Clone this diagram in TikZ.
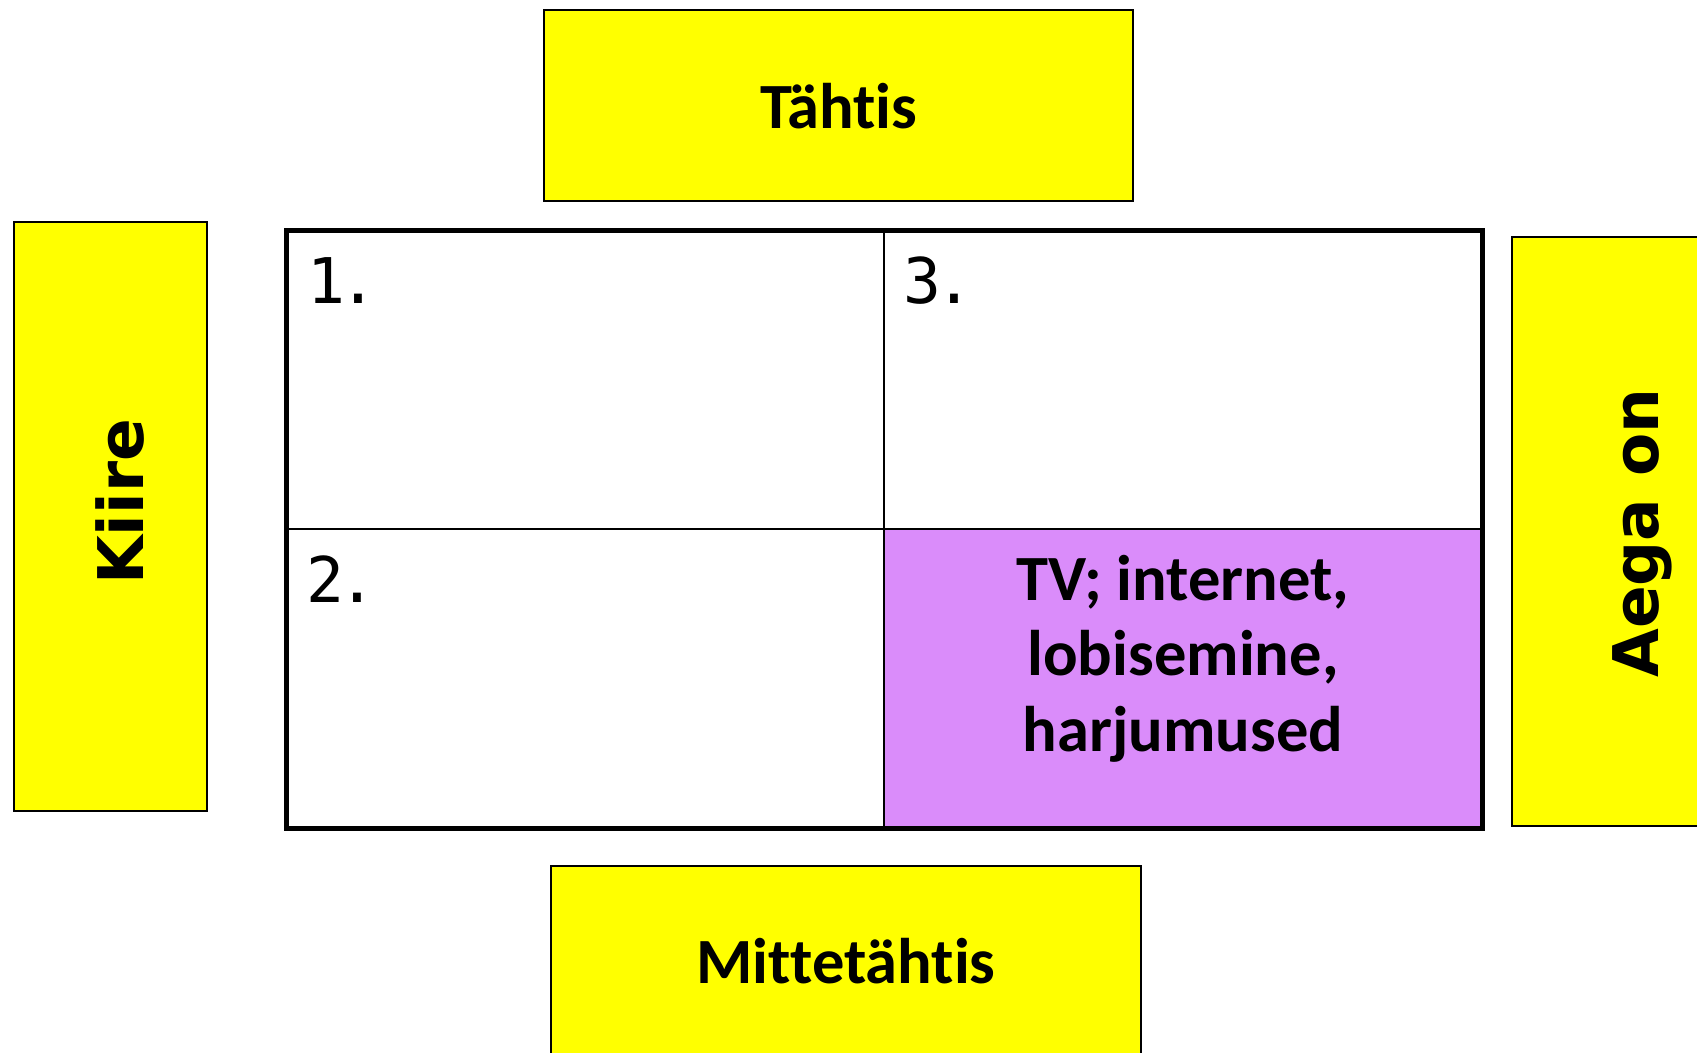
\documentclass[tikz,border=0pt]{standalone}
\usepackage{fontspec}
\newfontfamily\calfont[Ligatures=NoCommon]{Carlito}
\newfontfamily\heavyfont{DejaVu Sans}
\newfontfamily\monofont{DejaVu Sans Mono}
\definecolor{boxyellow}{RGB}{255,255,0}
\definecolor{cellpurple}{RGB}{218,140,250}
\tikzset{
  ybox/.style={draw=black, line width=1.5pt, fill=boxyellow, inner sep=0pt, minimum width=#1},
  cellbox/.style={draw=black, line width=2pt, inner sep=0pt, outer sep=0pt, minimum width=598pt, minimum height=299pt},
  caltext/.style={font=\calfont\bfseries\fontsize{64.5}{75.5}\selectfont, inner sep=0pt},
  heavytext/.style={font=\heavyfont\bfseries\fontsize{63}{75}\selectfont, inner sep=0pt, rotate=90, anchor=base},
  numtext/.style={font=\monofont\fontsize{63}{75}\selectfont, inner sep=0pt, anchor=base west}
}
\begin{document}
\begin{tikzpicture}[x=1pt,y=-1pt]
\useasboundingbox[fill=white] (0,0) rectangle (1697,1052);
% yellow boxes
\node[ybox=589pt, minimum height=191pt] (top) at (838.5,105.5) {};
\node[caltext, anchor=base] (toptext) at (839,128) {Tähtis};
\node[ybox=590pt, minimum height=194pt] (bottom) at (846,963) {};
\node[caltext, anchor=base] (bottomtext) at (846,983) {Mittetähtis};
\node[ybox=193pt, minimum height=589pt] (left) at (110.5,516.5) {};
\node[heavytext] (lefttext) at (143,502) {Kiire};
\node[ybox=193pt, minimum height=589pt] (right) at (1608.5,531.5) {};
\node[heavytext] (righttext) at (1658,533) {Aega on};
% grid cells
\node[cellbox] (c1) at (585,379.5) {};
\node[cellbox] (c3) at (1183,379.5) {};
\node[cellbox] (c2) at (585,678.5) {};
\node[cellbox, fill=cellpurple] (c4) at (1183,678.5) {};
\draw[line width=5pt] (c1.north west) rectangle (c4.south east);
% numbers
\node[numtext] (n1) at (307,303) {1\kern-6pt.};
\node[numtext] (n3) at (903,303) {3\kern-6pt.};
\node[numtext] (n2) at (306,602) {2\kern-6pt.};
% text in purple cell
\node[caltext, align=center, anchor=base] (tv) at (1183,751) {TV; internet,\\lobisemine,\\harjumused};
\end{tikzpicture}
\end{document}
